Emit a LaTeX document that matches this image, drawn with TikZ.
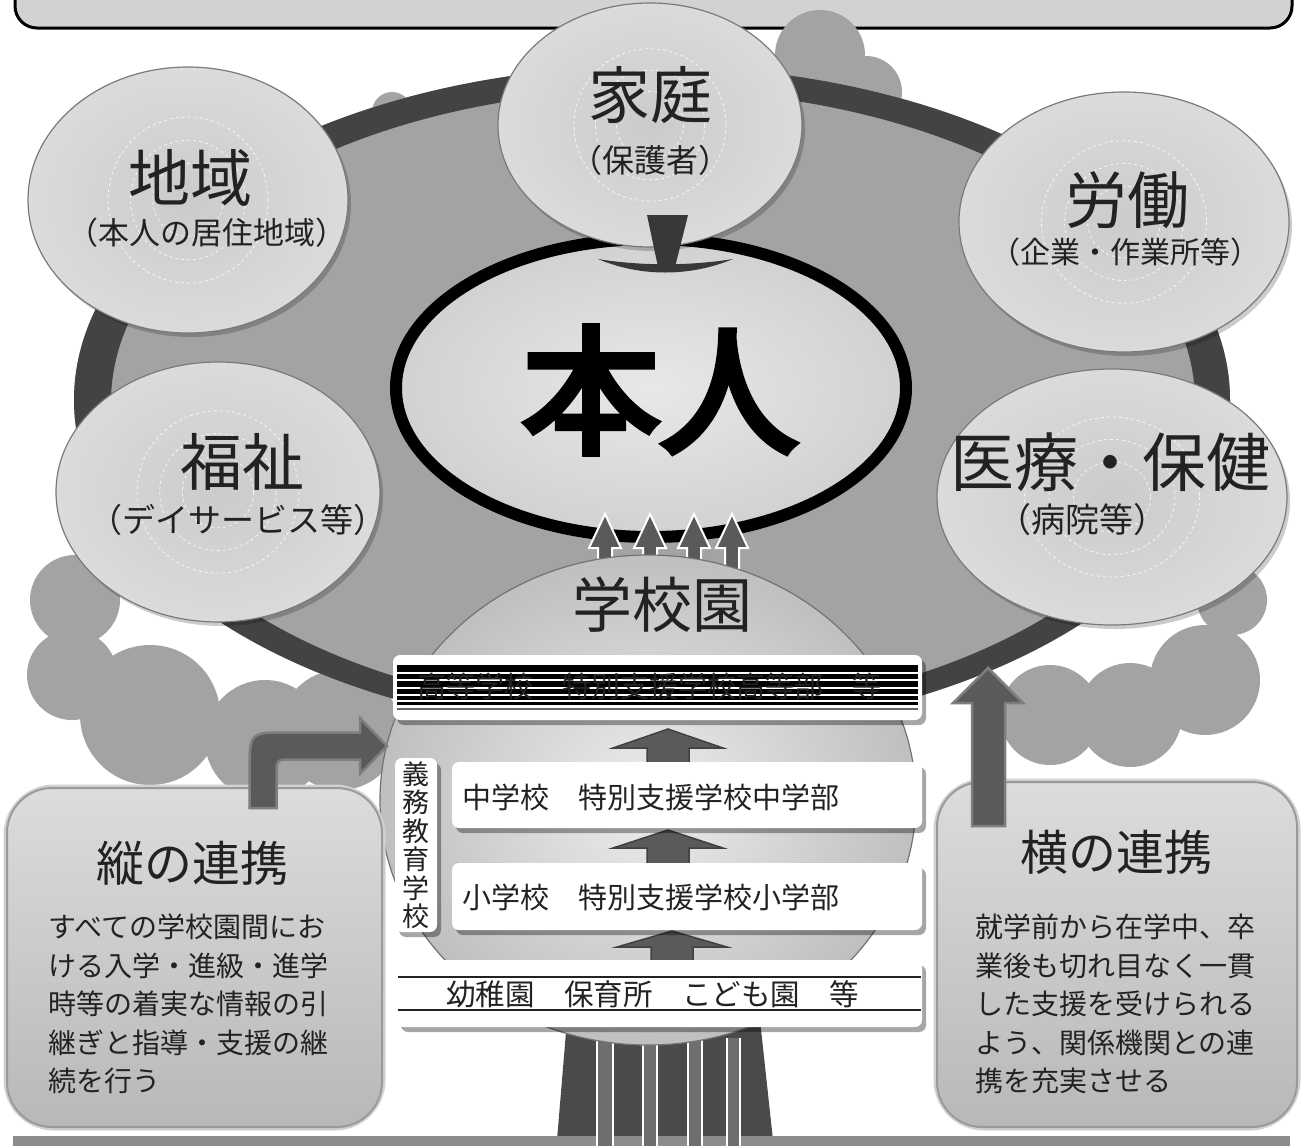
\documentclass[tikz,border=0pt]{standalone}
\usepackage{fontspec}
\newfontfamily\jp{Noto Sans CJK JP}
\newfontfamily\jpheavy[FakeBold=5]{Noto Sans CJK JP}
\usetikzlibrary{shapes.geometric,calc}

\definecolor{canopy}{HTML}{A3A3A3}
\definecolor{ringc}{HTML}{434345}
\definecolor{discin}{HTML}{CBCBCB}
\definecolor{discout}{HTML}{DBDBDB}
\definecolor{discedge}{HTML}{7A7A7A}
\definecolor{arrowfill}{HTML}{5A5A5C}
\definecolor{arrowedge}{HTML}{7E7E80}
\definecolor{trunkc}{HTML}{4A4A4C}
\definecolor{stripc}{HTML}{6E6E70}
\definecolor{bannerc}{HTML}{D2D2D2}
\definecolor{boxtop}{HTML}{DCDCDC}
\definecolor{boxbot}{HTML}{B8B8B8}
\definecolor{boxedge}{HTML}{9A9A9A}
\definecolor{inkc}{HTML}{222222}

\begin{document}
\begin{tikzpicture}[x=1pt,y=-1pt,
  disc/.style={ellipse, inner sep=0pt, draw=discedge, line width=1.2pt, shade, inner color=discin, outer color=discout},
  discshadow/.style={fill=black, opacity=0.2},
  deco/.style={white, dashed, line width=0.8pt, opacity=0.8},
  title/.style={font=\jp\fontsize{62}{62}\selectfont, text=inkc, inner sep=0pt},
  sub/.style={font=\jp\fontsize{31}{31}\selectfont, text=inkc, inner sep=0pt},
  bar/.style={fill=white, rounded corners=7pt},
  barshadow/.style={fill=black, opacity=0.35, rounded corners=7pt},
  bartext/.style={font=\jp\fontsize{29}{29}\selectfont, text=inkc, inner sep=0pt, anchor=west},
  blockarrow/.style={fill=arrowfill, draw=arrowedge, line width=2.5pt, line join=miter},
  smallarrow/.style={fill=arrowfill, draw=white, line width=2pt},
  stepup/.style={fill=arrowfill, draw=black!75, line width=1.5pt},
  infobox/.style={rounded corners=45pt, draw=boxedge, line width=2pt, top color=boxtop, bottom color=boxbot},
  boxrim/.style={rounded corners=47pt, draw=black!18, line width=7pt},
  boxtitle/.style={font=\jp\fontsize{48}{48}\selectfont, text=inkc, inner sep=0pt},
  boxbody/.style={font=\jp\fontsize{28}{38.5}\selectfont, text=inkc, inner sep=0pt, align=left, anchor=north west},
]
\useasboundingbox (0,0) rectangle (1303,1146);

% title banner at the top edge
\draw[line width=3pt, fill=bannerc, rounded corners=22pt] (15,-40) -- (15,28) -- (1292,28) -- (1292,-40);

% tree canopy: bumps around the ring
\fill[canopy] (820,55) circle (45) (866,92) circle (36) (392,112) circle (20)
  (75,600) circle (45) (72,675) circle (45) (150,715) circle (70)
  (265,740) circle (60) (340,730) circle (60)
  (1232,600) circle (35) (1205,680) circle (55) (1130,715) circle (52) (1050,715) circle (50);
\fill[canopy] (652,400) ellipse [x radius=578, y radius=334];
% dark ring linking the partners
\fill[ringc, even odd rule] (652,400) ellipse [x radius=578, y radius=334]
  (653,402) ellipse [x radius=542, y radius=312];

% trunk and ground
\fill[trunkc] (567,1020) -- (760,1020) -- (773,1140) -- (557,1140) -- cycle;
\fill[black!45] (13,1136) rectangle (1290,1146);
\foreach \a/\b in {597/613, 643/657, 688/702, 727/740}{
  \fill[stripc] (\a,1038) rectangle (\b,1146);
  \draw[white, line width=1.5pt] (\a,1038) -- (\a,1146) (\b,1038) -- (\b,1146);
}

% the person at the centre
\node[ellipse, inner sep=0pt, draw=black, line width=12pt, shade, inner color=black!9, outer color=black!18,
      minimum width=510pt, minimum height=298pt] (honnin) at (651,388) {};
\node[font=\jpheavy\fontsize{138}{138}\selectfont, inner sep=0pt] (honnintext) at (660,390) {本人};

% surrounding partners
\fill[discshadow] (191,204) ellipse [x radius=160, y radius=133];
\node[disc, minimum width=320pt, minimum height=266pt] (chiiki) at (188,200) {};
\foreach \f in {0.22,0.36,0.5} \draw[deco] (chiiki.center) ellipse [x radius=\f*160, y radius=\f*1.25*133];
\node[title] at (190,178) {地域};
\node[sub] at (207,233) {（本人の居住地域）};

\fill[discshadow] (1127,226) ellipse [x radius=165, y radius=130];
\node[disc, minimum width=330pt, minimum height=260pt] (roudou) at (1124,222) {};
\foreach \f in {0.22,0.36,0.5} \draw[deco] (roudou.center) ellipse [x radius=\f*165, y radius=\f*1.25*130];
\node[title] at (1127,200) {労働};
\node[sub, font=\jp\fontsize{30}{30}\selectfont] at (1125,252) {（企業・作業所等）};

\fill[discshadow] (221,496) ellipse [x radius=162, y radius=130];
\node[disc, minimum width=324pt, minimum height=260pt] (fukushi) at (218,492) {};
\foreach \f in {0.22,0.36,0.5} \draw[deco] (fukushi.center) ellipse [x radius=\f*162, y radius=\f*1.25*130];
\node[title] at (242,462) {福祉};
\node[sub, font=\jp\fontsize{33}{33}\selectfont] at (238,520) {（デイサービス等）};

\fill[discshadow] (1115,501) ellipse [x radius=175, y radius=128];
\node[disc, minimum width=350pt, minimum height=256pt] (iryou) at (1112,497) {};
\foreach \f in {0.22,0.36,0.5} \draw[deco] (iryou.center) ellipse [x radius=\f*175, y radius=\f*1.25*128];
\node[title, font=\jp\fontsize{64}{64}\selectfont] at (1110,462) {医療・保健};
\node[sub, font=\jp\fontsize{34}{34}\selectfont] at (1082,520) {（病院等）};

\fill[discshadow] (653,129) ellipse [x radius=152, y radius=122];
\node[disc, minimum width=304pt, minimum height=244pt] (katei) at (650,125) {};
\foreach \f in {0.22,0.36,0.5} \draw[deco] (katei.center) ellipse [x radius=\f*152, y radius=\f*1.25*122];
\node[title] at (650,95) {家庭};
\node[sub, font=\jp\fontsize{32}{32}\selectfont] at (650,160) {（保護者）};

% link from the family down into the person
\fill[black!78] (647,215) -- (688,215) -- (675,267) -- (658,267) -- cycle;
\fill[black!78] (598,259) .. controls (640,266) and (690,266) .. (733,259)
  .. controls (690,277) and (640,277) .. (598,259) -- cycle;

% four arrows rising from the schools to the person
\foreach \c in {605,650,694,732}
  \draw[smallarrow] (\c-7,575) -- (\c-7,548) -- (\c-16,548) -- (\c,514) -- (\c+16,548) -- (\c+7,548) -- (\c+7,575);

% schools disc
\node[ellipse, inner sep=0pt, draw=black!55, line width=1.2pt, shade, inner color=black!7, outer color=black!25,
      minimum width=536pt, minimum height=490pt] (gakkouen) at (648,800) {};
\node[title, font=\jp\fontsize{60}{60}\selectfont] at (662,605) {学校園};

% steps between the school levels
\foreach \c/\t/\b/\s in {668/729/748/764, 668/830/848/864, 672/931/947/962}
  \draw[stepup] (\c-21,\s) -- (\c-21,\b) -- (\c-55,\b) -- (\c,\t) -- (\c+55,\b) -- (\c+21,\b) -- (\c+21,\s) -- cycle;

% upper secondary level
\fill[barshadow] (397,660) rectangle (926,725);
\fill[bar] (393,655) rectangle (922,720);
\fill[black] (397,665) rectangle (918,705);
\foreach \y in {673,680,688,695,701} \draw[white, line width=2.2pt] (397,\y) -- (918,\y);
\node[bartext] (koutou) at (417,686) {高等学校　特別支援学校高等部　等};
\draw[black!60, line width=1.5pt] (397,709) -- (918,709);

% compulsory education levels
\fill[barshadow] (399,763) rectangle (441,937);
\fill[bar] (395,758) rectangle (437,932);
\node[font=\jp\fontsize{27}{28.5}\selectfont, text=inkc, align=center, inner sep=0pt] (gimu) at (416,845)
  {義\\務\\教\\育\\学\\校};
\fill[barshadow] (456,767) rectangle (926,833);
\fill[bar] (452,762) rectangle (922,828);
\node[bartext] (chuu) at (462,797) {中学校　特別支援学校中学部};
\fill[barshadow] (456,868) rectangle (926,935);
\fill[bar] (452,863) rectangle (922,930);
\node[bartext] (shou) at (462,897) {小学校　特別支援学校小学部};

% early childhood level
\fill[barshadow] (401,965) rectangle (926,1032);
\fill[bar] (397,960) rectangle (922,1027);
\draw[inkc, line width=1.5pt] (398,977) -- (921,977) (398,1010) -- (921,1010);
\node[bartext, font=\jp\fontsize{29.5}{29.5}\selectfont] (youji) at (446,994) {幼稚園　保育所　こども園　等};

% vertical cooperation box
\draw[boxrim] (7,788) rectangle (382,1127);
\draw[infobox] (7,788) rectangle (382,1127);
\node[boxtitle] (tate) at (192,863) {縦の連携};
\node[boxbody] (tatebody) at (48,914) {すべての学校園間にお\\ける入学・進級・進学\\時等の着実な情報の引\\継ぎと指導・支援の継\\続を行う};
\draw[blockarrow] (249.5,808) -- (249.5,772) .. controls (249.5,732.5) .. (287,732.5) -- (360,732.5)
  -- (360,718) -- (387,746) -- (360,774) -- (360,759.5) -- (292,759.5)
  .. controls (276.5,759.5) .. (276.5,775) -- (276.5,808) -- cycle;

% horizontal cooperation box
\draw[boxrim] (937,782) rectangle (1297,1127);
\draw[infobox] (937,782) rectangle (1297,1127);
\node[boxtitle] (yoko) at (1116,852) {横の連携};
\node[boxbody] (yokobody) at (975,914) {就学前から在学中、卒\\業後も切れ目なく一貫\\した支援を受けられる\\よう、関係機関との連\\携を充実させる};
\draw[blockarrow] (972,826) -- (972,703) -- (953,703) -- (988,668) -- (1023,703) -- (1005,703) -- (1005,826) -- cycle;

\end{tikzpicture}
\end{document}
